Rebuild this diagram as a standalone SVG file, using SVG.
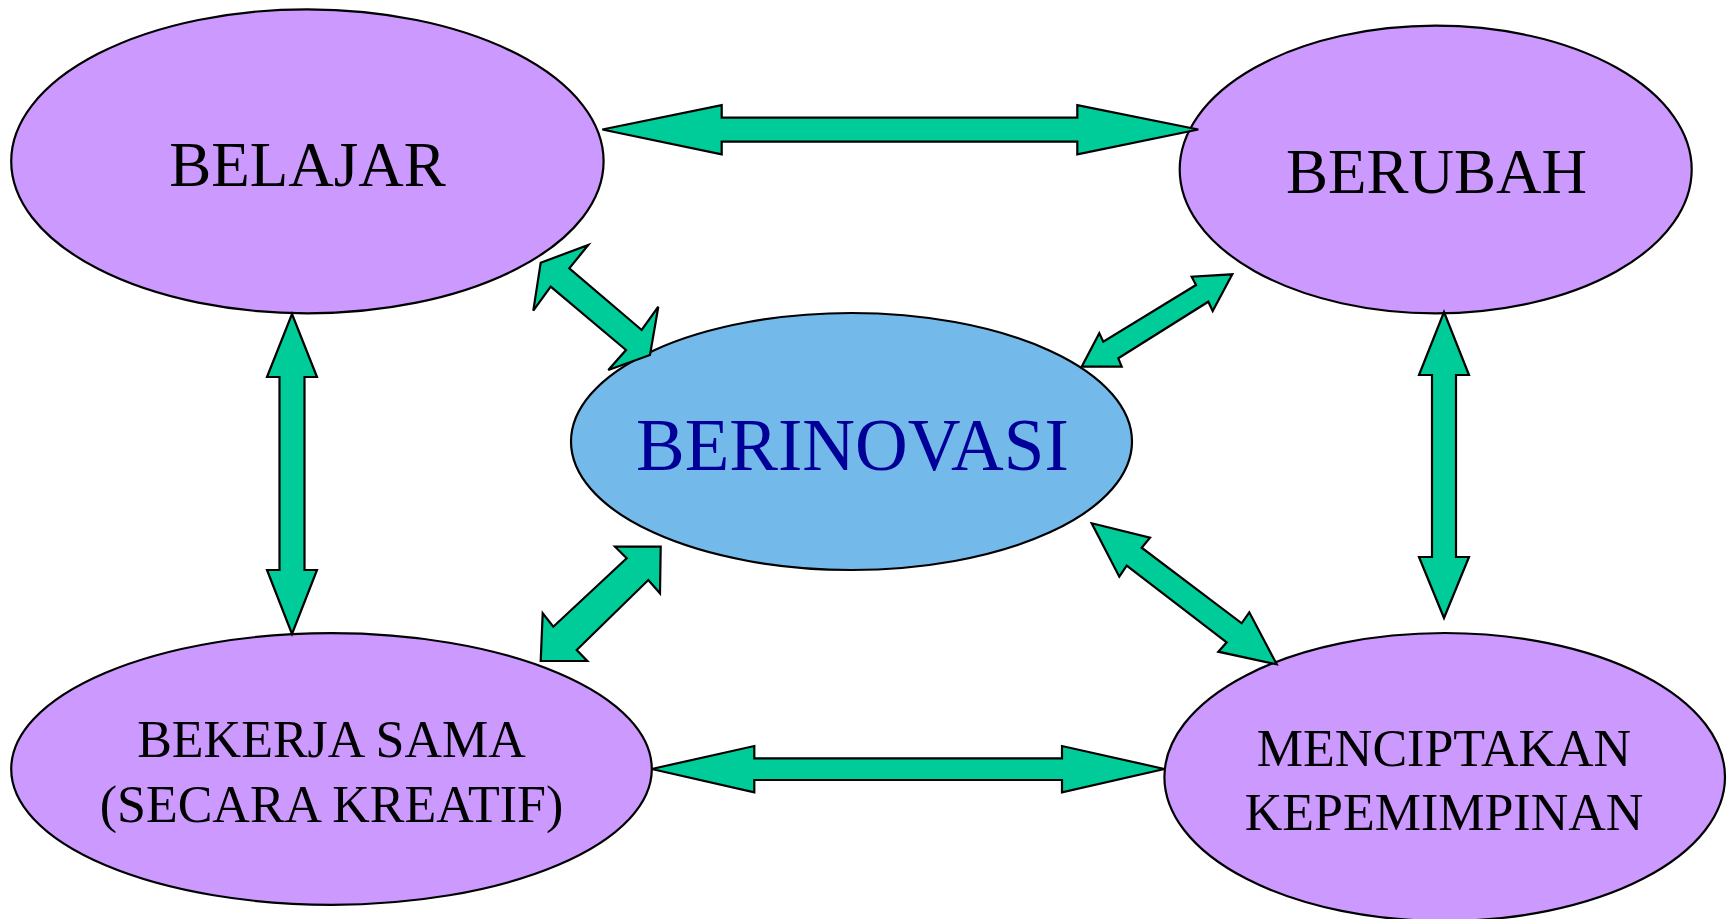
<svg xmlns="http://www.w3.org/2000/svg" width="1731" height="919" viewBox="0 0 1731 919">
<style>
.node{fill:#CC99FF;stroke:#000;stroke-width:2.2}
.center{fill:#73BAEB;stroke:#000;stroke-width:2.2}
.lbl{font-family:"Liberation Serif","Times New Roman",serif;fill:#000;text-anchor:middle}
.arr{fill:#00CC99;stroke:#000;stroke-width:2.2;stroke-linejoin:miter}
</style>
<rect width="1731" height="919" fill="#fff"/>
<g id="belajar">
<ellipse class="node" cx="307.4" cy="161.3" rx="296.2" ry="152"/>
<text class="lbl" x="307.5" y="185.7" font-size="63">BELAJAR</text>
</g>
<g id="berubah">
<ellipse class="node" cx="1435.7" cy="169.5" rx="256" ry="143.8"/>
<text class="lbl" x="1436.6" y="193.3" font-size="63">BERUBAH</text>
</g>
<g id="berinovasi">
<ellipse class="center" cx="851.5" cy="441.5" rx="280.5" ry="128.5"/>
<text class="lbl" x="852.4" y="470" font-size="73" style="fill:#000099">BERINOVASI</text>
</g>
<g id="bekerja-sama">
<ellipse class="node" cx="331.5" cy="769" rx="320.3" ry="135.8"/>
<text class="lbl" x="331.5" y="757.3" font-size="52">BEKERJA SAMA</text>
<text class="lbl" x="331.5" y="821.7" font-size="52">(SECARA KREATIF)</text>
</g>
<g id="menciptakan-kepemimpinan">
<ellipse class="node" cx="1444.7" cy="777" rx="280.3" ry="144"/>
<text class="lbl" x="1444" y="765.7" font-size="52">MENCIPTAKAN</text>
<text class="lbl" x="1444" y="830" font-size="52">KEPEMIMPINAN</text>
</g>
<g id="connectors">
<polygon class="arr" points="602.3,129.5 721.7,105.2 721.7,117.7 1077.3,117.7 1077.3,105.2 1198.3,129.5 1077.3,154.3 1077.3,141.7 721.7,141.7 721.7,154.3"/>
<polygon class="arr" points="651.7,769 754.3,746 754.3,758.3 1062,758.3 1062,746 1164.5,769 1062,792.3 1062,780 754.3,780 754.3,792.3"/>
<polygon class="arr" points="292,314 317,377 304.5,377 304.5,570 317,570 292,634 267,570 279.5,570 279.5,377 267,377"/>
<polygon class="arr" points="1444,312 1469,375 1456,375 1456,557 1469,557 1444,618 1419,557 1432,557 1432,375 1419,375"/>
<polygon class="arr" points="540.7,262.7 588.3,245 569.3,268.3 641.7,330 658.3,306.7 650,355 608.3,370 626,350 550.7,286.7 533.3,310.7"/>
<polygon class="arr" points="1232.3,274.3 1212.7,311 1208.3,301.7 1118.3,358.3 1121.7,366.7 1081.7,366.7 1099.3,333.3 1103.3,341.7 1196,285 1191.7,276.7"/>
<polygon class="arr" points="660.7,546.7 660,593.3 648.3,580 576.7,650 587.3,661 540.7,661 542.7,613.3 553.3,626.7 626.7,558.3 615,546.7"/>
<polygon class="arr" points="1091.7,523.3 1150,537.7 1141.7,547.7 1241.7,623.3 1249.3,612.3 1276.7,664.3 1218.3,651.7 1226.7,642.3 1126.7,565.7 1119.3,576.7"/>
</g>
</svg>
